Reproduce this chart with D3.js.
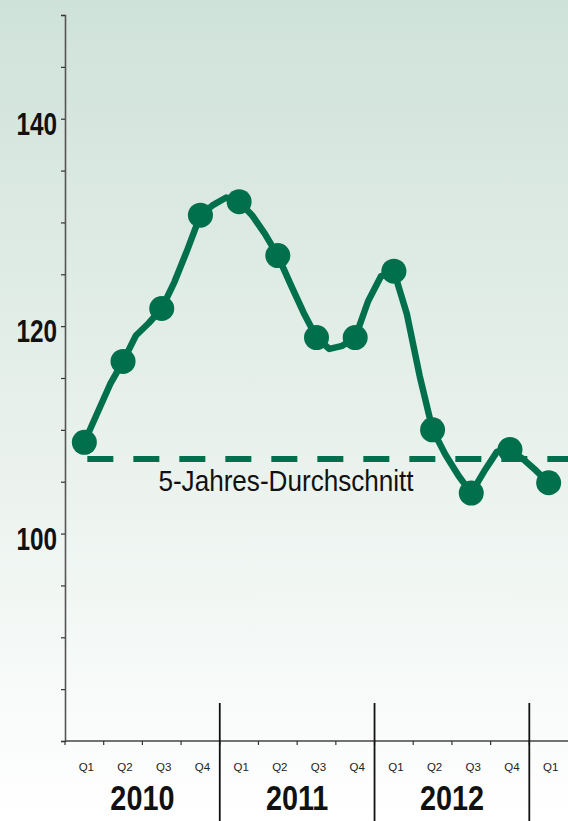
<!DOCTYPE html>
<html>
<head>
<meta charset="utf-8">
<script src="https://cdn.jsdelivr.net/npm/d3@7"></script>
<style>
  html, body { margin: 0; padding: 0; background: #ffffff; }
  svg { display: block; }
</style>
</head>
<body>
<svg id="chart" width="568" height="821"></svg>
<script>
// ---------- data ----------
const quarterLabels = ["Q1","Q2","Q3","Q4","Q1","Q2","Q3","Q4","Q1","Q2","Q3","Q4","Q1"];
const years = ["2010", "2011", "2012"];
// monthly index values (every third one is a quarter point with a dot)
const monthlyValues = [
  108.8, 111.6, 114.4,
  116.6, 119.1, 120.3,
  121.7, 124.3, 127.4,
  130.7, 131.7, 132.4,
  132.0, 130.7, 128.9,
  126.8, 124.0, 121.3,
  118.9, 117.8, 118.1,
  118.9, 122.4, 124.8,
  125.3, 121.2, 115.2,
  110.0, 107.6, 105.6,
  103.9, 106.0, 107.9,
  108.1, 107.2, 106.1,
  104.9
];
const averageValue = 107.2;
const averageLabel = "5-Jahres-Durchschnitt";
const yTicks = [80, 85, 90, 95, 100, 105, 110, 115, 120, 125, 130, 135, 140, 145, 150];
const yLabels = [100, 120, 140];

// ---------- setup ----------
const W = 568, H = 821;
const svg = d3.select("#chart");
const green = "#00704c";

const defs = svg.append("defs");
const grad = defs.append("linearGradient").attr("id", "bg").attr("x1", 0).attr("y1", 0).attr("x2", 0).attr("y2", 1);
grad.append("stop").attr("offset", "0%").attr("stop-color", "#cfe2d9");
grad.append("stop").attr("offset", "50%").attr("stop-color", "#e7f0eb");
grad.append("stop").attr("offset", "100%").attr("stop-color", "#ffffff");
svg.append("rect").attr("width", W).attr("height", H).attr("fill", "url(#bg)");

const axisX0 = 65, axisY0 = 741, axisTop = 15;

const xBand = d3.scaleBand().domain(d3.range(quarterLabels.length)).range([axisX0, 568]).paddingInner(0).paddingOuter(0);
const xMonth = d3.scaleLinear()
  .domain([0, (quarterLabels.length - 1) * 3])
  .range([xBand(0) + xBand.bandwidth() / 2, xBand(quarterLabels.length - 1) + xBand.bandwidth() / 2]);
const y = d3.scaleLinear().domain([80, 150]).range([axisY0, axisTop]);

const sansFont = "'Liberation Sans', Arial, sans-serif";

// ---------- y axis ----------
const yAxis = d3.axisLeft(y).tickValues(yTicks).tickSize(4).tickFormat("");
const gy = svg.append("g").attr("transform", `translate(${axisX0},0)`).call(yAxis);
gy.select(".domain").attr("stroke", "#555").attr("stroke-width", 1.6);
gy.selectAll(".tick line").attr("stroke", "#333").attr("stroke-width", 1.2);

svg.append("g").selectAll("text").data(yLabels).join("text")
  .attr("transform", d => `translate(57,${y(d) + 16}) scale(0.76,1)`)
  .attr("text-anchor", "end")
  .attr("font-family", sansFont)
  .attr("font-weight", "bold")
  .attr("font-size", 32)
  .attr("fill", "#111")
  .text(d => d);

// ---------- x axis ----------
const gx = svg.append("g").attr("transform", `translate(0,${axisY0})`);
gx.append("line").attr("x1", axisX0).attr("x2", W).attr("y1", 0).attr("y2", 0)
  .attr("stroke", "#444").attr("stroke-width", 1.6);
gx.selectAll("line.tk").data(d3.range(quarterLabels.length)).join("line")
  .attr("class", "tk")
  .attr("x1", d => xBand(d)).attr("x2", d => xBand(d))
  .attr("y1", 0).attr("y2", 4)
  .attr("stroke", "#333").attr("stroke-width", 1.2);

svg.append("g").selectAll("text").data(quarterLabels).join("text")
  .attr("x", (d, i) => xBand(i) + xBand.bandwidth() / 2 + 2)
  .attr("y", 771)
  .attr("text-anchor", "middle")
  .attr("font-family", sansFont)
  .attr("font-size", 11.5)
  .attr("fill", "#222")
  .text(d => d);

// year separators
const sepIdx = [4, 8, 12];
svg.append("g").selectAll("line").data(sepIdx).join("line")
  .attr("x1", d => xBand(d)).attr("x2", d => xBand(d))
  .attr("y1", 703).attr("y2", H)
  .attr("stroke", "#111").attr("stroke-width", 1.8);

svg.append("g").selectAll("text").data(years).join("text")
  .attr("transform", (d, i) => `translate(${(xBand(i * 4) + xBand(i * 4 + 4)) / 2},810) scale(0.8,1)`)
  .attr("text-anchor", "middle")
  .attr("font-family", sansFont)
  .attr("font-weight", "bold")
  .attr("font-size", 36)
  .attr("fill", "#111")
  .text(d => d);

// ---------- average dashed line ----------
svg.append("line")
  .attr("x1", xMonth(0) + 3).attr("x2", W)
  .attr("y1", y(averageValue)).attr("y2", y(averageValue))
  .attr("stroke", green).attr("stroke-width", 6)
  .attr("stroke-dasharray", "26,20");

svg.append("text")
  .attr("transform", "translate(286,491) scale(0.87,1)")
  .attr("text-anchor", "middle")
  .attr("font-family", sansFont)
  .attr("font-size", 30)
  .attr("fill", "#111")
  .text(averageLabel);

// ---------- index line ----------
const line = d3.line()
  .x((d, i) => xMonth(i))
  .y(d => y(d))
  .curve(d3.curveLinear);

svg.append("path")
  .datum(monthlyValues)
  .attr("d", line)
  .attr("fill", "none")
  .attr("stroke", green)
  .attr("stroke-width", 6.5)
  .attr("stroke-linejoin", "round")
  .attr("stroke-linecap", "round");

const quarterPoints = monthlyValues.map((v, i) => ({ v, i })).filter(d => d.i % 3 === 0);
svg.append("g").selectAll("circle").data(quarterPoints).join("circle")
  .attr("cx", d => xMonth(d.i))
  .attr("cy", d => y(d.v))
  .attr("r", 12.5)
  .attr("fill", green);
</script>
</body>
</html>
